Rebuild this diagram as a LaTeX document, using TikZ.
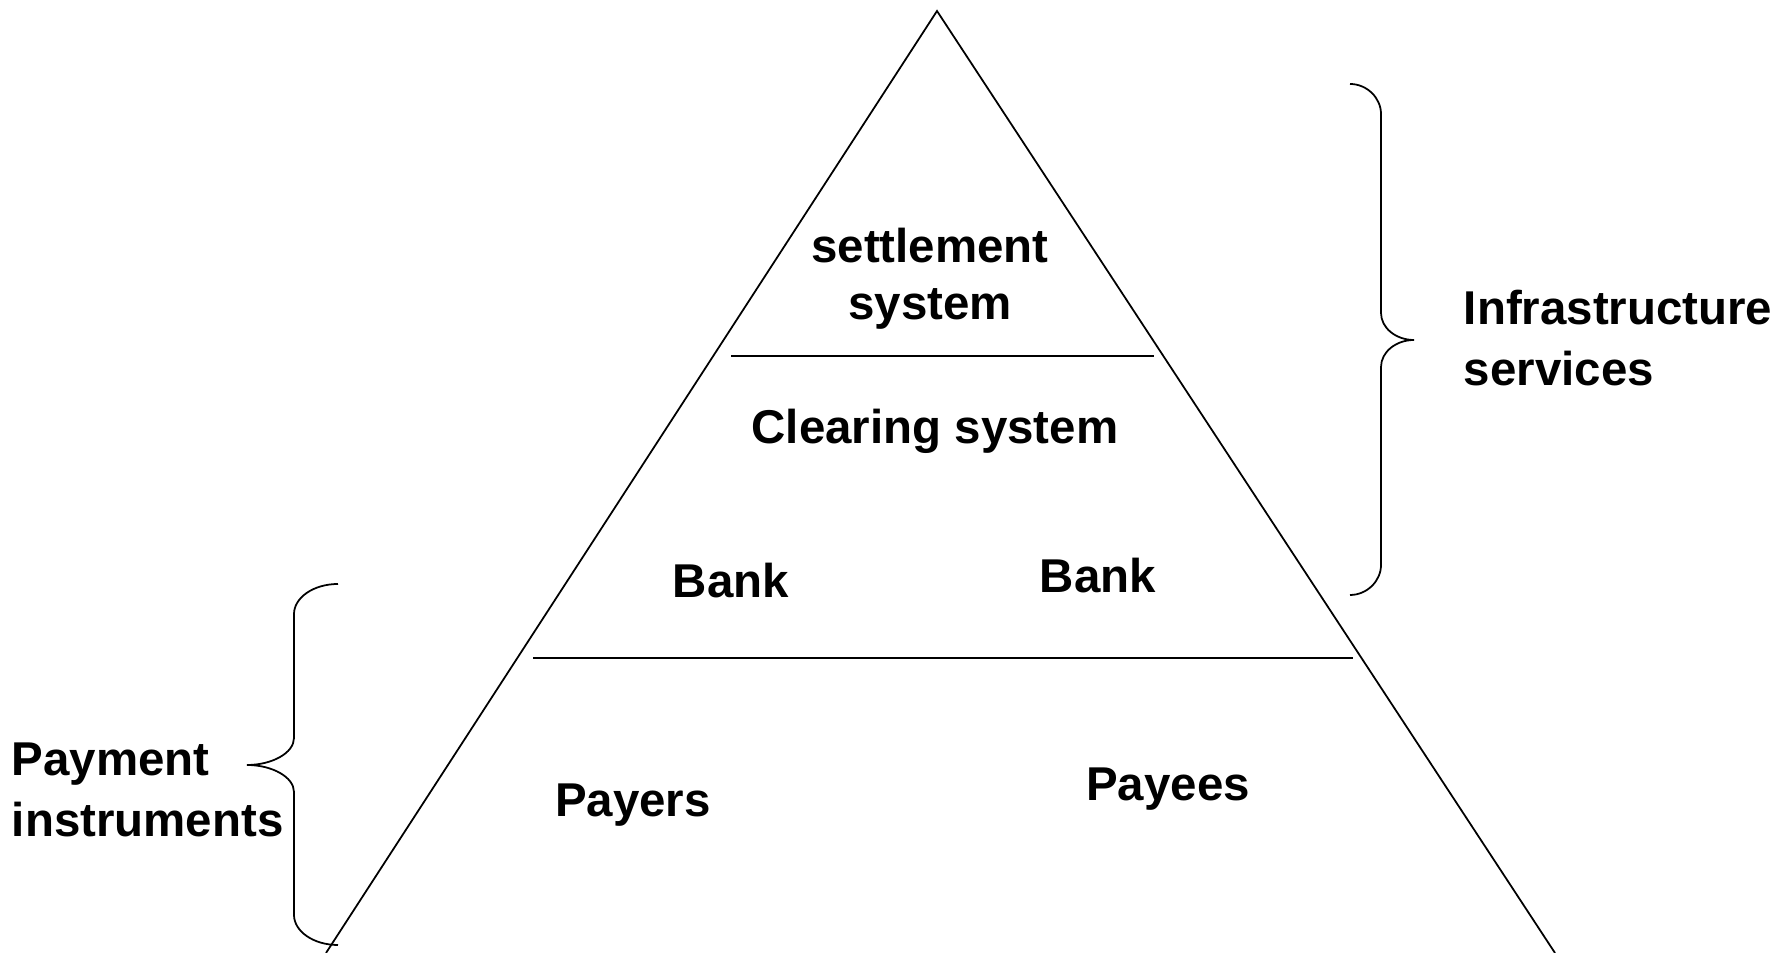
\documentclass[tikz,border=0pt]{standalone}
\usepackage{fontspec}
\setmainfont{Liberation Sans}
\usetikzlibrary{positioning}

\begin{document}
\begin{tikzpicture}[line width=0.5pt,
    lbl/.style={font=\fontsize{13.5}{17.4}\selectfont\bfseries, align=center, inner sep=0pt}]
    \useasboundingbox (0,0) rectangle (17.78,9.53);

    % Pyramid sides
    \coordinate (apex) at (9.37,9.42);
    \draw (3.26,0) -- (apex) -- (15.55,0);

    % Layer dividers
    \draw (7.31,5.97) -- (11.54,5.97);
    \draw (5.33,2.95) -- (13.53,2.95);

    % Layer labels
    \node[lbl, font=\fontsize{13.5}{16.2}\selectfont\bfseries] (settle) at (9.30,6.74) {settlement\\system};
    \node[lbl] (clear) at (9.35,5.22) {Clearing system};
    \node[lbl] (bankL) at (7.31,3.72) {Bank};
    \node[lbl] (bankR) at (10.98,3.77) {Bank};
    \node[lbl] (payers) at (6.33,1.48) {Payers};
    \node[lbl] (payees) at (11.68,1.64) {Payees};

    % Right brace
    \draw (13.50,8.69) .. controls (13.67,8.69) and (13.81,8.55) .. (13.81,8.39)
        -- (13.81,6.40) .. controls (13.81,6.25) and (13.96,6.13) .. (14.14,6.13)
        .. controls (13.96,6.13) and (13.81,6.01) .. (13.81,5.86)
        -- (13.81,3.88) .. controls (13.81,3.72) and (13.67,3.58) .. (13.50,3.58);
    \node[lbl, anchor=west, align=left] (infra) at (14.63,6.15) {Infrastructure\\services};

    % Left brace
    \draw (3.38,3.69) .. controls (3.13,3.69) and (2.94,3.55) .. (2.94,3.39)
        -- (2.94,2.15) .. controls (2.94,2.00) and (2.72,1.88) .. (2.47,1.88)
        .. controls (2.72,1.88) and (2.94,1.76) .. (2.94,1.61)
        -- (2.94,0.38) .. controls (2.94,0.22) and (3.13,0.08) .. (3.38,0.08);
    \node[lbl, anchor=west, align=left] (instr) at (0.11,1.63) {Payment\\instruments};
\end{tikzpicture}
\end{document}
